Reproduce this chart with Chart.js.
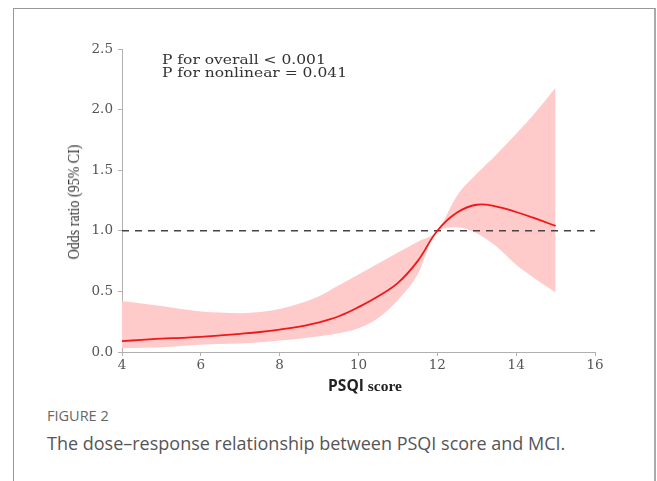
<!DOCTYPE html>
<html>
<head>
<meta charset="utf-8">
<script src="https://cdn.jsdelivr.net/npm/chart.js@4"></script>
<style>
  body { margin: 0; background: #fff; width: 657px; height: 481px; overflow: hidden; position: relative; }
  #frame { position: absolute; left: 13px; top: 8px; width: 640px; height: 480px;
           border-left: 1px solid #999; border-top: 1px solid #999; border-right: 2px solid #aaa; }
  #wrap { position: absolute; left: 40px; top: 30px; width: 580px; height: 345px; }
  .ytitle { position: absolute; left: 74px; top: 202px; font-family: "Liberation Serif", serif; font-size: 14px; color: #333;
            white-space: nowrap; transform: translate(-50%, -50%) rotate(-90deg) scaleY(1.25); }
  .note { position: absolute; left: 162px; top: 54px; font-family: "DejaVu Serif", serif; font-size: 12.5px; line-height: 12.5px; color: #333;
          white-space: nowrap; transform-origin: 0 0; transform: scaleX(1.24); }
  .xtitle { position: absolute; left: 365px; top: 374px; transform: translateX(-50%); font-size: 15.5px; font-weight: bold; color: #222; white-space: nowrap; }
  .fig { position: absolute; left: 47px; top: 406px; font-family: "Open Sans", sans-serif; font-size: 14.5px; color: #666; }
  .cap { position: absolute; left: 47px; top: 431px; font-family: "Open Sans", sans-serif; font-size: 18px; color: #555; white-space: nowrap; }
</style>
</head>
<body>
<div id="frame"></div>
<div id="wrap"><canvas id="c"></canvas></div>
<div class="ytitle">Odds ratio (95% CI)</div>
<div class="note">P for overall &lt; 0.001<br>P for nonlinear = 0.041</div>
<div class="xtitle"><span style="font-family:'Open Sans',sans-serif">PSQI</span> <span style="font-family:'Liberation Serif',serif">score</span></div>
<div class="fig">FIGURE 2</div>
<div class="cap">The dose–response relationship between PSQI score and MCI.</div>
<script>
// PSQI score grid and odds ratio with 95% CI
const psqi    = [4, 4.5, 5, 5.5, 6, 6.5, 7, 7.5, 8, 8.5, 9, 9.5, 10, 10.5, 11, 11.5, 12, 12.5, 13, 13.5, 14, 14.5, 15];
const orEst   = [0.09, 0.10, 0.11, 0.117, 0.125, 0.137, 0.15, 0.165, 0.185, 0.21, 0.245, 0.295, 0.37, 0.46, 0.57, 0.75, 1.0, 1.15, 1.215, 1.2, 1.155, 1.10, 1.04];
const orUpper = [0.42, 0.40, 0.38, 0.355, 0.335, 0.325, 0.32, 0.33, 0.355, 0.40, 0.46, 0.55, 0.64, 0.73, 0.82, 0.91, 1.0, 1.29, 1.47, 1.63, 1.80, 1.98, 2.18];
const orLower = [0.03, 0.035, 0.04, 0.05, 0.06, 0.065, 0.07, 0.08, 0.095, 0.11, 0.13, 0.155, 0.195, 0.28, 0.43, 0.64, 1.0, 1.03, 0.98, 0.87, 0.72, 0.60, 0.49];
const refX = [4, 16];
const refY = [1, 1];

const pts = (xs, ys) => xs.map((x, i) => ({ x: x, y: ys[i] }));

const axisColor = "#b0b0b0";
const tickFont = { family: "DejaVu Serif", size: 13.5 };

new Chart(document.getElementById("c"), {
  type: "line",
  data: {
    datasets: [
      { data: pts(psqi, orEst), borderColor: "#f01818", borderWidth: 1.8, pointRadius: 0, tension: 0.4, fill: false },
      { data: pts(refX, refY), borderColor: "#444", borderWidth: 1.6, borderDash: [7, 6], pointRadius: 0, fill: false },
      { data: pts(psqi, orUpper), borderWidth: 0, pointRadius: 0, cubicInterpolationMode: "monotone", fill: "+1", backgroundColor: "#ffcaca" },
      { data: pts(psqi, orLower), borderWidth: 0, pointRadius: 0, cubicInterpolationMode: "monotone", fill: false }
    ]
  },
  options: {
    responsive: true,
    maintainAspectRatio: false,
    animation: false,
    layout: { padding: { top: 19, right: 25, left: 0, bottom: 0 } },
    plugins: { legend: { display: false }, tooltip: { enabled: false } },
    scales: {
      x: {
        type: "linear", min: 4, max: 16,
        ticks: { stepSize: 2, color: "#555", font: tickFont, padding: 1, maxRotation: 0 },
        grid: { drawOnChartArea: false, drawTicks: true, tickLength: 4, color: axisColor },
        border: { color: axisColor },
        afterFit: s => { s.height = 23; }
      },
      y: {
        min: 0, max: 2.5,
        ticks: { stepSize: 0.5, color: "#555", font: tickFont, padding: 5, callback: v => v.toFixed(1) },
        grid: { drawOnChartArea: false, drawTicks: true, tickLength: 4, color: axisColor },
        border: { color: axisColor },
        afterFit: s => { s.width = 82; }
      }
    }
  }
});
</script>
</body>
</html>
